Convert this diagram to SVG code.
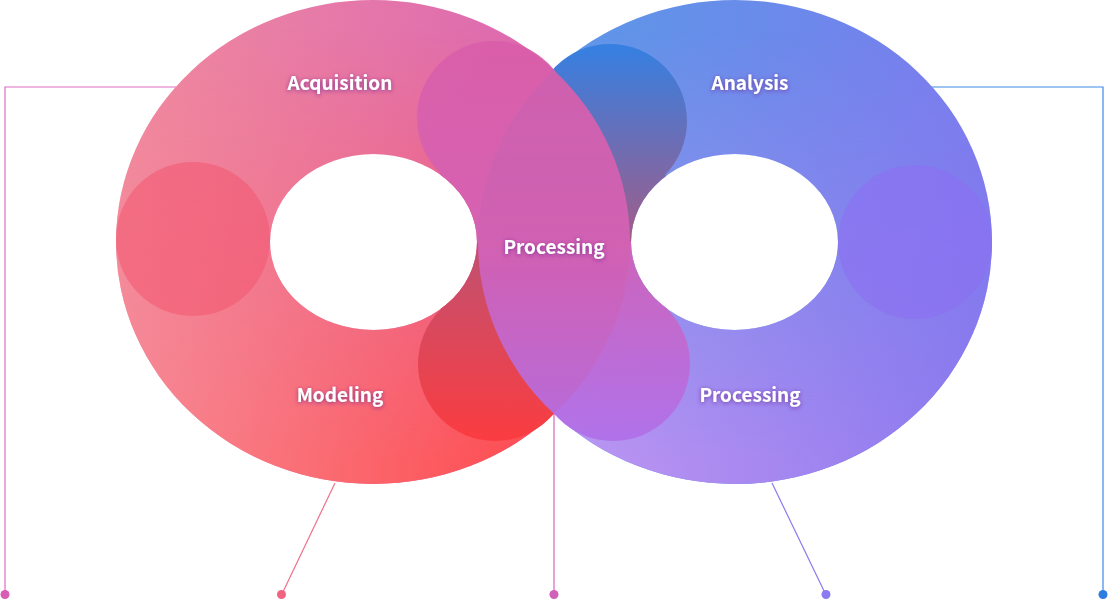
<svg xmlns="http://www.w3.org/2000/svg" width="1108" height="601" viewBox="0 0 1108 601">
<defs>
<style>
.lbl{font-family:"Noto Sans CJK KR","Noto Sans",sans-serif;font-weight:700;font-size:19px;fill:#ffffff;text-anchor:middle;filter:url(#glow)}
.ln{fill:none;stroke-width:1.2}
</style>
<path id="ringL" fill-rule="evenodd" clip-rule="evenodd" d="M116,242a257,242 0 1,0 514,0a257,242 0 1,0 -514,0ZM270,242a103.5,88 0 1,0 207,0a103.5,88 0 1,0 -207,0Z"/>
<path id="ringR" fill-rule="evenodd" clip-rule="evenodd" d="M478,242a257,242 0 1,0 514,0a257,242 0 1,0 -514,0ZM631,242a103.5,88 0 1,0 207,0a103.5,88 0 1,0 -207,0Z"/>
<clipPath id="cL"><use href="#ringL"/></clipPath>
<clipPath id="cR"><use href="#ringR"/></clipPath>
<linearGradient id="gLtop" gradientUnits="userSpaceOnUse" x1="116" y1="0" x2="630" y2="0"><stop offset="0" stop-color="#f08aa0"/><stop offset="1" stop-color="#d862b4"/></linearGradient>
<linearGradient id="gLbot" gradientUnits="userSpaceOnUse" x1="116" y1="0" x2="630" y2="0"><stop offset="0" stop-color="#f78a94"/><stop offset="1" stop-color="#ff3e40"/></linearGradient>
<linearGradient id="gRtop" gradientUnits="userSpaceOnUse" x1="478" y1="0" x2="992" y2="0"><stop offset="0" stop-color="#569de6"/><stop offset="1" stop-color="#7a7cee"/></linearGradient>
<linearGradient id="gRbot" gradientUnits="userSpaceOnUse" x1="478" y1="0" x2="992" y2="0"><stop offset="0" stop-color="#c89cf2"/><stop offset="1" stop-color="#8c78ee"/></linearGradient>
<linearGradient id="gMask" gradientUnits="userSpaceOnUse" x1="0" y1="30" x2="0" y2="460"><stop offset="0" stop-color="#000"/><stop offset="1" stop-color="#fff"/></linearGradient>
<mask id="mV" maskUnits="userSpaceOnUse" x="0" y="0" width="1108" height="601"><rect x="0" y="0" width="1108" height="601" fill="url(#gMask)"/></mask>
<linearGradient id="gBlue" gradientUnits="userSpaceOnUse" x1="0" y1="44" x2="0" y2="242"><stop offset="0" stop-color="#3580e2"/><stop offset="1" stop-color="#a25c88"/></linearGradient>
<linearGradient id="gRed" gradientUnits="userSpaceOnUse" x1="0" y1="242" x2="0" y2="441"><stop offset="0" stop-color="#bf5272"/><stop offset="1" stop-color="#fb3c40"/></linearGradient>
<linearGradient id="gBand" gradientUnits="userSpaceOnUse" x1="0" y1="41" x2="0" y2="441"><stop offset="0" stop-color="#da5eaa"/><stop offset="0.5" stop-color="#d462b6"/><stop offset="1" stop-color="#b070ea"/></linearGradient>
<filter id="glow" x="-20%" y="-50%" width="140%" height="200%"><feDropShadow dx="0" dy="1" stdDeviation="2" flood-color="#6a2090" flood-opacity="0.75"/></filter>
</defs>

<g id="connectors">
<polyline class="ln" points="176,87 5,87 5,595" stroke="#e06cc4"/>
<line class="ln" x1="335" y1="483" x2="281.5" y2="595" stroke="#f0708c"/>
<line class="ln" x1="554" y1="410" x2="554" y2="595" stroke="#d865b8"/>
<line class="ln" x1="772" y1="483" x2="826" y2="595" stroke="#8a7af2"/>
<polyline class="ln" points="932,87 1103,87 1103,595" stroke="#3f8ae6"/>
<circle cx="5" cy="594.5" r="4.5" fill="#d85cb4"/>
<circle cx="281.5" cy="594.5" r="4.5" fill="#f06482"/>
<circle cx="554" cy="594.5" r="4.5" fill="#d25fb8"/>
<circle cx="826" cy="594.5" r="4.5" fill="#8a7cf0"/>
<circle cx="1103" cy="594.5" r="4.5" fill="#2d7ce2"/>
</g>

<g id="ring-left">
<use href="#ringL" fill="url(#gLtop)"/>
<use href="#ringL" fill="url(#gLbot)" mask="url(#mV)"/>
<circle cx="193" cy="239" r="77" fill="#f35670" opacity="0.55"/>
</g>

<g id="ring-right">
<use href="#ringR" fill="url(#gRtop)"/>
<use href="#ringR" fill="url(#gRbot)" mask="url(#mV)"/>
<circle cx="915" cy="242" r="77" fill="#8c70f2" opacity="0.6"/>
</g>

<g id="strand-under-blue">
<polygon points="735,242.5 360,-121 300,-121 300,242.5" clip-path="url(#cR)" fill="url(#gBlue)"/>
<circle cx="610" cy="121" r="77" fill="url(#gBlue)"/>
</g>

<g id="strand-under-red">
<polygon points="373,241.5 739,608 1000,608 1000,241.5" clip-path="url(#cL)" fill="url(#gRed)"/>
<circle cx="495" cy="364" r="77" fill="url(#gRed)"/>
</g>

<g id="strand-over" opacity="0.93">
<polygon points="373,242.5 736,-130 1000,-130 1000,242.5" clip-path="url(#cL)" fill="url(#gBand)"/>
<circle cx="494" cy="118" r="77" fill="url(#gBand)"/>
<polygon points="735,241.5 369,608 300,608 300,241.5" clip-path="url(#cR)" fill="url(#gBand)"/>
<circle cx="613" cy="364" r="77" fill="url(#gBand)"/>
</g>

<g id="node-acquisition"><text class="lbl" x="340" y="90">Acquisition</text></g>
<g id="node-analysis"><text class="lbl" x="750" y="90">Analysis</text></g>
<g id="node-processing-center"><text class="lbl" x="554" y="254">Processing</text></g>
<g id="node-modeling"><text class="lbl" x="340" y="402">Modeling</text></g>
<g id="node-processing-right"><text class="lbl" x="750" y="402">Processing</text></g>
</svg>
